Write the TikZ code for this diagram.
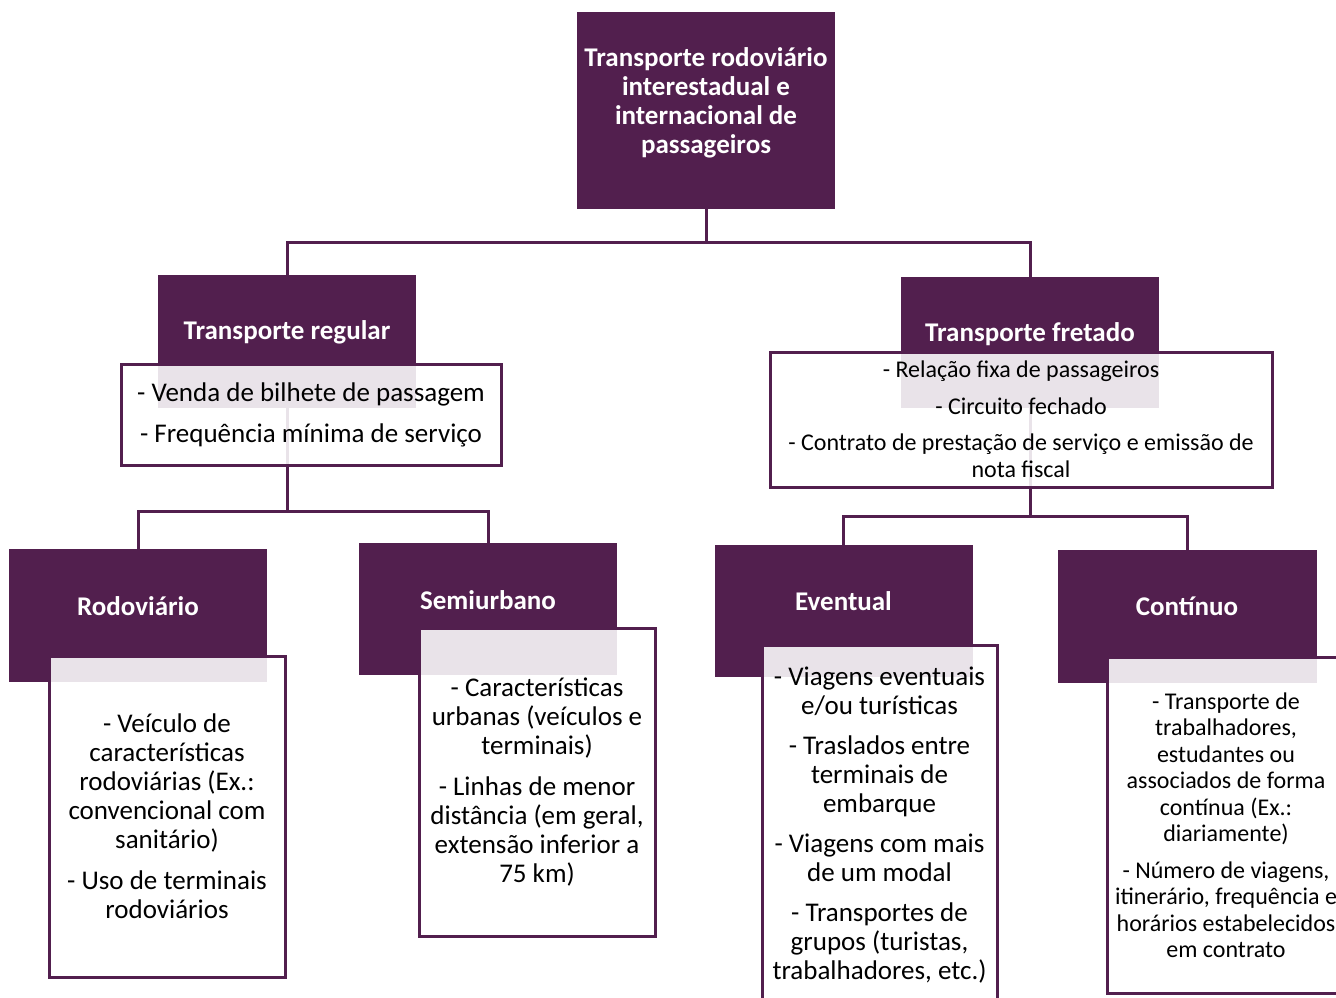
\documentclass[tikz,border=0pt]{standalone}
\usepackage{fontspec}
\setmainfont{Carlito}
\usepackage{tikz}
\definecolor{plum}{RGB}{82,31,78}
\tikzset{headbox/.style={rectangle, fill=plum, draw=none, inner sep=0pt},
	headtitle/.style={text=white, align=center, inner sep=0pt,
		font=\bfseries\fontsize{27pt}{29pt}\selectfont},
	infobox/.style={rectangle, draw=plum, line width=3pt, fill=white,
		fill opacity=0.88, text opacity=1, align=center, inner sep=0pt,
		font=\fontsize{27pt}{29pt}\selectfont},
	link/.style={draw=plum, line width=3pt}}

\begin{document}
\begin{tikzpicture}[x=1pt, y=-1pt]
		\clip (0,0) rectangle (1336,997);
		\fill[white] (0,0) rectangle (1336,997);
		% purple title boxes
		\node[headbox, minimum width=258pt, minimum height=197pt] (top) at (706,110.5){};
		\node[headbox, minimum width=258pt, minimum height=133pt] (reg) at (287,341.5){};
		\node[headbox, minimum width=258pt, minimum height=131pt] (fret) at (1030,342.5){};
		\node[headbox, minimum width=258pt, minimum height=133pt] (rod) at (138,615.5){};
		\node[headbox, minimum width=258pt, minimum height=132pt] (semi) at (488,609){};
		\node[headbox, minimum width=258pt, minimum height=132pt] (even) at (843.5,611){};
		\node[headbox, minimum width=259pt, minimum height=133pt] (cont) at (1187,616.5){};
		\node[headtitle] (topT) at (706,103){Transporte rodoviário\\interestadual e\\internacional de\\passageiros};
		\node[headtitle] (regT) at (287,332){Transporte regular};
		\node[headtitle] (fretT) at (1030,334){Transporte fretado};
		\node[headtitle] (rodT) at (138,606){Rodoviário};
		\node[headtitle] (semiT) at (488,600){Semiurbano};
		\node[headtitle] (evenT) at (843.5,601){Eventual};
		\node[headtitle] (contT) at (1187,606){Contínuo};
		% connectors
		\draw[link] (top.south) -- ++(0,33) -| (reg.north);
		\draw[link] (top.south) -- ++(0,33) -| (fret.north);
		\draw[link] (reg.south) -- ++(0,103) -| (rod.north);
		\draw[link] (reg.south) -- ++(0,103) -| (semi.north);
		\draw[link] (fret.south) -- ++(0,108) -| (even.north);
		\draw[link] (fret.south) -- ++(0,108) -| (cont.north);
		% text boxes
		\node[infobox, minimum width=380pt, minimum height=101pt] (regI) at (311,414.5)
			{- Venda de bilhete de passagem\\[12pt]- Frequência mínima de serviço};
		\node[infobox, minimum width=502pt, minimum height=135pt,
			font=\fontsize{24pt}{27pt}\selectfont] (fretI) at (1021,419.5)
			{- Relação fixa de passageiros\\[10pt]- Circuito fechado\\[9pt]- Contrato de prestação de serviço e emissão de\\nota fiscal};
		\node[infobox, minimum width=236pt, minimum height=321pt] (rodI) at (167,816.5)
			{- Veículo de\\características\\rodoviárias (Ex.:\\convencional com\\sanitário)\\[12pt]- Uso de terminais\\rodoviários};
		\node[infobox, minimum width=236pt, minimum height=308pt] (semiI) at (537,782)
			{- Características\\urbanas (veículos e\\terminais)\\[12pt]- Linhas de menor\\distância (em geral,\\extensão inferior a\\75 km)};
		\node[infobox, minimum width=235pt, minimum height=360pt] (evenI) at (879.5,825)
			{- Viagens eventuais\\e/ou turísticas\\[11pt]- Traslados entre\\terminais de\\embarque\\[11pt]- Viagens com mais\\de um modal\\[11pt]- Transportes de\\grupos (turistas,\\trabalhadores, etc.)};
		\node[infobox, minimum width=238pt, minimum height=336pt,
			font=\fontsize{24pt}{26.5pt}\selectfont] (contI) at (1226,825)
			{- Transporte de\\trabalhadores,\\estudantes ou\\associados de forma\\contínua (Ex.:\\diariamente)\\[10pt]- Número de viagens,\\itinerário, frequência e\\horários estabelecidos\\em contrato};
		\end{tikzpicture}
\end{document}
